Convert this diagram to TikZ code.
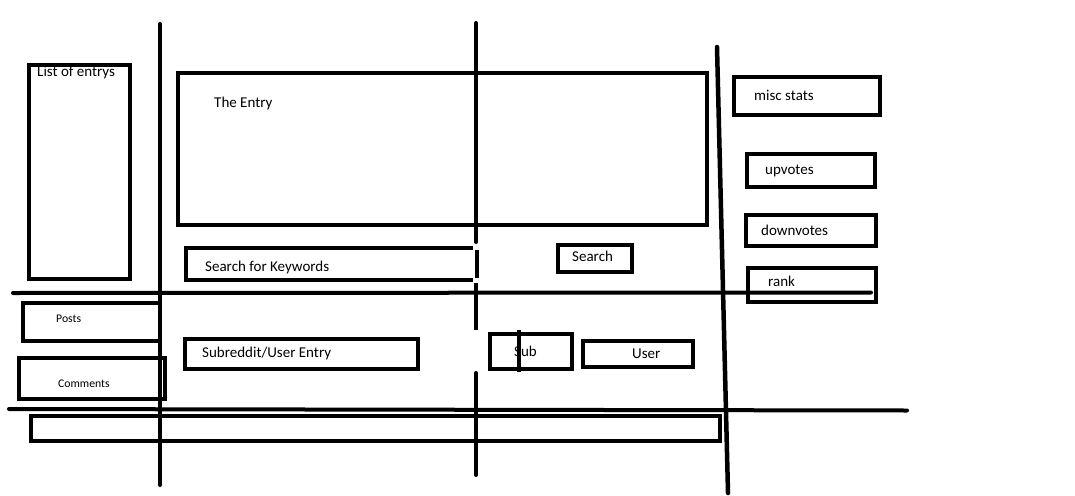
\documentclass[tikz,border=0pt]{standalone}
\usepackage{fontspec}
\setmainfont{Carlito}
\tikzset{
  box/.style={draw=black, line width=4pt, inner sep=0pt, fill=none},
  stroke/.style={draw=black, line width=4pt, line cap=round},
  txt/.style={inner sep=0pt, anchor=base west, font=\fontsize{15}{17}\selectfont},
  smalltxt/.style={inner sep=0pt, anchor=base west, font=\fontsize{11.7}{13}\selectfont},
}
\begin{document}
\begin{tikzpicture}[x=1pt,y=-1pt]
\useasboundingbox[fill=white] (0,0) rectangle (1075,495);

% boxes
\node[box, minimum width=101pt, minimum height=214pt] (list) at (79.5,172) {};
\node[box, minimum width=529pt, minimum height=152pt] (entry) at (442.5,149) {};
\node[box, minimum width=74pt, minimum height=27pt] (search) at (595,258.5) {};
\node[box, minimum width=146pt, minimum height=38pt] (misc) at (807,96) {};
\node[box, minimum width=128pt, minimum height=33pt] (up) at (811,170.5) {};
\node[box, minimum width=130pt, minimum height=31pt] (down) at (811,230.5) {};
\node[box, minimum width=128pt, minimum height=34pt] (rank) at (812,285) {};
\node[box, minimum width=137pt, minimum height=38pt] (posts) at (91.5,322) {};
\node[box, minimum width=146pt, minimum height=41pt] (comments) at (92,378.5) {};
\node[box, minimum width=233pt, minimum height=30pt] (subuser) at (301.5,354) {};
\node[box, minimum width=82pt, minimum height=35pt] (sub) at (531,351.5) {};
\node[box, minimum width=110pt, minimum height=26pt] (user) at (638,354) {};
\node[box, minimum width=689pt, minimum height=25pt] (bottom) at (375.5,428.5) {};

% search for keywords (open at right)
\coordinate (kwtr) at (473,248);
\coordinate (kwtl) at (186,248);
\coordinate (kwbl) at (186,280);
\coordinate (kwbr) at (473,280);
\draw[line width=4pt] (kwtr) -- (kwtl) -- (kwbl) -- (kwbr);

% grid lines
\coordinate (v1t) at (160,24);   \coordinate (v1b) at (160,485);
\draw[stroke] (v1t) -- (v1b);
\coordinate (v2a) at (476,23);   \coordinate (v2b) at (476,242);
\coordinate (v2c) at (476.5,250);  \coordinate (v2d) at (476.5,278);
\coordinate (v2e) at (476,283);  \coordinate (v2f) at (476,330);
\coordinate (v2g) at (476,373);  \coordinate (v2h) at (476,475);
\draw[stroke] (v2a) -- (v2b);
\draw[stroke, line cap=butt] (v2c) -- (v2d);
\draw[stroke, line cap=butt] (v2e) -- (v2f);
\draw[stroke] (v2g) -- (v2h);
\coordinate (v3t) at (717,47);   \coordinate (v3b) at (728,493);
\draw[stroke, line width=4.5pt] (v3t) -- (v3b);
\coordinate (h1l) at (13,293);   \coordinate (h1r) at (871,292.5);
\draw[stroke] (h1l) -- (h1r);
\coordinate (h2l) at (9,409);    \coordinate (h2r) at (907,410.5);
\draw[stroke] (h2l) -- (h2r);
\coordinate (subt) at (519,330); \coordinate (subb) at (519,372);
\draw[line width=4pt] (subt) -- (subb);

% texts
\node[txt] (t-list) at (37,77) {List of entrys};
\node[txt] (t-entry) at (214,107) {The Entry};
\node[txt] (t-kw) at (205,271) {Search for Keywords};
\node[txt] (t-search) at (572,261) {Search};
\node[txt] (t-misc) at (754,100) {misc stats};
\node[txt] (t-up) at (765,174) {upvotes};
\node[txt] (t-down) at (761,235) {downvotes};
\node[txt] (t-rank) at (768,286) {rank};
\node[smalltxt] (t-posts) at (56,322) {Posts};
\node[smalltxt] (t-comments) at (58,387) {Comments};
\node[txt] (t-subuser) at (202,357) {Subreddit/User Entry};
\node[txt] (t-sub) at (514,356) {Sub};
\node[txt] (t-user) at (632,358) {User};
\end{tikzpicture}
\end{document}
